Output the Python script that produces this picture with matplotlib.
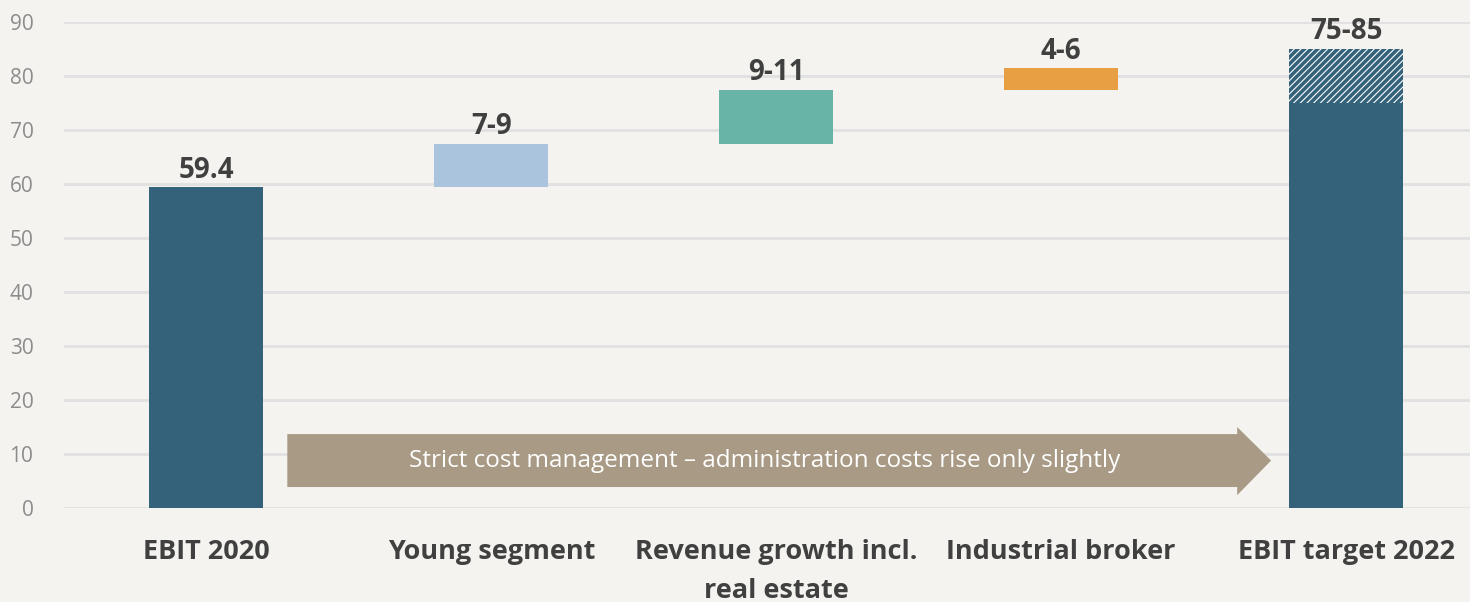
import matplotlib.pyplot as plt
from matplotlib.patches import Polygon

# Daten
categories = ['EBIT 2020', 'Young segment', 'Revenue growth incl.\nreal estate',
              'Industrial broker', 'EBIT target 2022']
bottoms = [0, 59.4, 67.4, 77.4, 0]
heights = [59.4, 8, 10, 4, 75]
target_range = [75, 85]
value_labels = ['59.4', '7-9', '9-11', '4-6', '75-85']
arrow_text = 'Strict cost management – administration costs rise only slightly'

colors = ['#33627A', '#A9C4DC', '#68B5A7', '#E89F43', '#33627A']
bg = '#F4F3EF'

plt.rcParams['font.family'] = ['Open Sans', 'DejaVu Sans']
plt.rcParams['hatch.linewidth'] = 2.6
plt.rcParams['hatch.color'] = '#33627A'

fig = plt.figure(figsize=(14.7, 6.02), dpi=100, facecolor=bg)
ax = fig.add_axes([0.0435, 0.156, 0.9565, 0.8075])
ax.set_facecolor(bg)

x = list(range(len(categories)))
ax.bar(x, heights, bottom=bottoms, width=0.4, color=colors, zorder=3)
# oberer Teil der Zielspanne schraffiert
ax.bar(x[-1], target_range[1] - target_range[0], bottom=target_range[0], width=0.4,
       facecolor='white', edgecolor='#33627A', hatch='/////', linewidth=0, zorder=3)

tops = [b + h for b, h in zip(bottoms, heights)]
tops[-1] = target_range[1]
for xi, t, lab in zip(x, tops, value_labels):
    ax.text(xi, t + 0.5, lab, ha='center', va='bottom', fontsize=20,
            fontweight='bold', color='#404040', zorder=4)

# Pfeil
x0, x_head, x_tip = 0.284, 3.618, 3.737
y_lo, y_hi = 3.9, 13.7
head_lo, head_hi = 2.4, 15.0
ymid = (y_lo + y_hi) / 2
arrow = Polygon([(x0, y_lo), (x_head, y_lo), (x_head, head_lo), (x_tip, ymid),
                 (x_head, head_hi), (x_head, y_hi), (x0, y_hi)],
                closed=True, facecolor='#A89A84', edgecolor='none', zorder=4)
ax.add_patch(arrow)
ax.text(1.96, ymid, arrow_text, ha='center', va='center',
        fontsize=17.5, color='white', zorder=5)

ax.set_ylim(0, 90)
ax.set_xlim(-0.5, 4.435)
ax.set_yticks(range(0, 91, 10))
ax.grid(axis='y', color='#E2E1E2', linewidth=2, zorder=0)
ax.set_xticks(x)
ax.set_xticklabels(categories, fontsize=19.5, fontweight='bold', color='#404040',
                   linespacing=1.65)
ax.tick_params(axis='x', length=0, pad=22)
ax.tick_params(axis='y', length=0, pad=22, labelsize=15, labelcolor='#8C8C8C')
for s in ax.spines.values():
    s.set_visible(False)

fig.savefig('out.png', dpi=100, facecolor=bg)
